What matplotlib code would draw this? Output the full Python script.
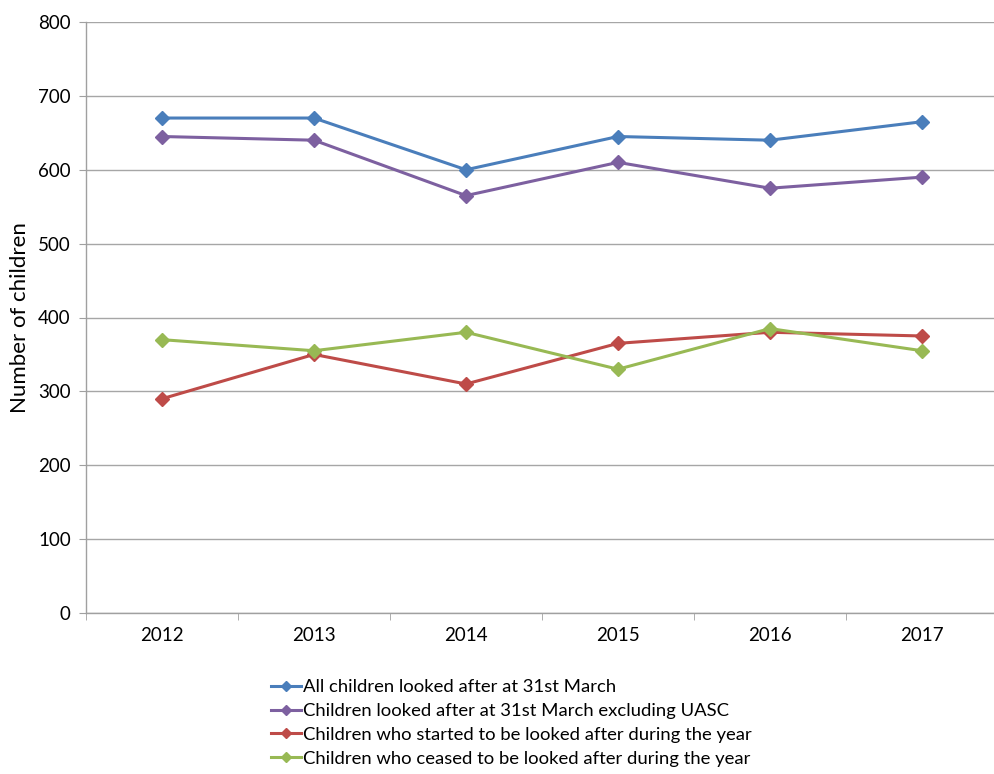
import matplotlib
matplotlib.use("Agg")
import matplotlib.pyplot as plt

years = ["2012", "2013", "2014", "2015", "2016", "2017"]
all_children = [670, 670, 600, 645, 640, 665]
excl_uasc = [645, 640, 565, 610, 575, 590]
started = [290, 350, 310, 365, 380, 375]
ceased = [370, 355, 380, 330, 385, 355]
labels = [
    "All children looked after at 31st March",
    "Children looked after at 31st March excluding UASC",
    "Children who started to be looked after during the year",
    "Children who ceased to be looked after during the year",
]
colors = ["#4a7ebb", "#7d60a0", "#be4b48", "#98b954"]
y_ticks = [0, 100, 200, 300, 400, 500, 600, 700, 800]

plt.rcParams['font.family'] = ['Lato', 'DejaVu Sans']

fig = plt.figure(figsize=(9.95, 7.74), dpi=100)
ax = fig.add_axes([86/995, 161/774, 912/995, 591/774])

x = list(range(len(years)))
lines = []
for vals, lab, c in zip([all_children, excl_uasc, started, ceased], labels, colors):
    ln, = ax.plot(x, vals, color=c, lw=2.2, marker='D', markersize=7,
                  markeredgecolor=c, label=lab)
    lines.append(ln)

ax.set_xlim(-0.5, len(years) - 0.5)
ax.set_ylim(0, 800)
ax.set_yticks(y_ticks)
ax.set_yticklabels([str(v) for v in y_ticks], fontsize=13.5)
ax.set_xticks(x)
ax.set_xticklabels(years, fontsize=13.5)
ax.set_xticks([i - 0.5 for i in range(len(years) + 1)], minor=True)
ax.tick_params(axis='x', which='major', length=0, pad=10)
ax.tick_params(axis='x', which='minor', length=5, color='#a0a0a0', direction='out')
ax.tick_params(axis='y', length=5, color='#a0a0a0', direction='out', pad=6)
ax.yaxis.grid(True, color='#a6a6a6', lw=1.0)
ax.set_axisbelow(True)
for s in ['top', 'right']:
    ax.spines[s].set_visible(False)
for s in ['left', 'bottom']:
    ax.spines[s].set_color('#a0a0a0')
    ax.spines[s].set_linewidth(1.0)

fig.text(20/995, 1 - 318/774, "Number of children", rotation=90, fontsize=16,
         ha='center', va='center')

fig.legend(handles=lines, loc='upper left', bbox_to_anchor=(262/995, 1 - 670/774),
           frameon=False, fontsize=13.3, handlelength=1.6, handletextpad=0.1,
           labelspacing=0.42, borderpad=0, markerscale=0.75)

fig.savefig("out.png", dpi=100)
